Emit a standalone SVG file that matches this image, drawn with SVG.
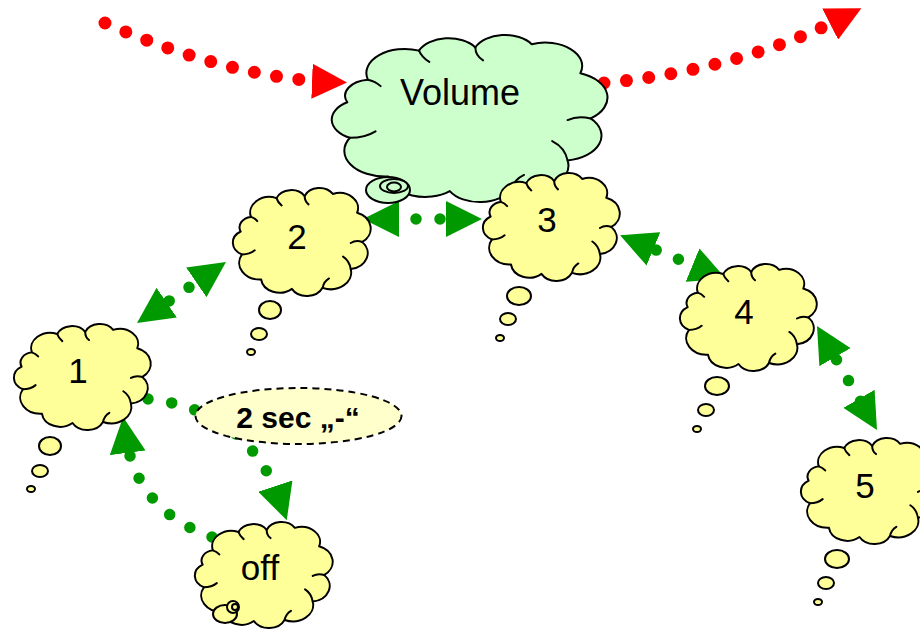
<svg xmlns="http://www.w3.org/2000/svg" xmlns:xlink="http://www.w3.org/1999/xlink" width="920" height="630" viewBox="0 0 920 630">
<style>
.cf{stroke:#000;stroke-width:2;vector-effect:non-scaling-stroke;stroke-linejoin:round}
.cr{fill:none;stroke:#000;stroke-width:2;vector-effect:non-scaling-stroke;stroke-linecap:round}
.y{fill:#ffff99}
.g{fill:#ccffcc}
.b{stroke:#000;stroke-width:2}
.num{font-family:"Liberation Sans",Arial,sans-serif;font-size:35px;fill:#000;text-anchor:middle}
.red{fill:none;stroke:#ff0000;stroke-width:13;stroke-linecap:round;stroke-dasharray:0 22.5}
.grn{fill:none;stroke:#009900;stroke-width:11.5;stroke-linecap:round;stroke-dasharray:0 24}
</style>
<defs>
<g id="cloud">
<path class="cf" d="M10,28 A15,15 0 0 1 30,10 A12.5,12.5 0 0 1 52,8 A12.5,12.5 0 0 1 74,6 A14.5,14.5 0 0 1 93,24 A16,16 0 0 1 97,52 A15.5,15.5 0 0 1 88,78 A16,16 0 0 1 66,96 A13.5,13.5 0 0 1 42,97 A14.5,14.5 0 0 1 18,88 A16,16 0 0 1 3,64 A12.5,12.5 0 0 1 2,42 A10,10 0 0 1 10,28 Z"/>
<path class="cr" d="M97,52 Q92,50 88,53 M88,78 Q87,70 82,66 M52,8 Q52,13 55,16 M66,96 Q67,90 71,87 M3,64 Q9,64 13,60 M30,10 Q31,14 34,17 M10,28 Q13,29 15,32"/>
</g>
<marker id="ar" markerUnits="userSpaceOnUse" viewBox="0 0 35 35" refX="20" refY="17.5" markerWidth="35" markerHeight="35" orient="auto-start-reverse">
<path d="M0,0 L35,17.5 L0,35 Z" fill="#ff0000"/>
</marker>
<marker id="ag" markerUnits="userSpaceOnUse" viewBox="0 0 36 36" refX="21" refY="18" markerWidth="36" markerHeight="36" orient="auto-start-reverse">
<path d="M0,0 L36,18 L0,36 Z" fill="#009900"/>
</marker>
</defs>

<g id="connectors">
<path class="red" d="M105,23 Q230,78 332,82" marker-end="url(#ar)"/>
<path class="red" d="M604,83 Q740,70 848,15" marker-end="url(#ar)"/>
<path class="grn" d="M149.4,314.5 L213.6,270.5" marker-start="url(#ag)" marker-end="url(#ag)"/>
<path class="grn" d="M378,219 L467,219" style="stroke-dashoffset:10" marker-start="url(#ag)" marker-end="url(#ag)"/>
<path class="grn" d="M634,241 L712,273" marker-start="url(#ag)" marker-end="url(#ag)"/>
<path class="grn" d="M824.5,339 L869.5,417" marker-start="url(#ag)" marker-end="url(#ag)"/>
<path class="grn" d="M148,399 Q250,410 282,506" marker-end="url(#ag)"/>
<path class="grn" d="M212,537 Q135,510 125,432" marker-end="url(#ag)"/>
</g>

<g id="node-volume">
<use xlink:href="#cloud" class="g" transform="translate(342.2,34.5) scale(2.561,1.614)"/>
<ellipse class="g b" cx="388" cy="190" rx="22" ry="13"/>
<ellipse class="g b" cx="394" cy="186" rx="14" ry="7"/>
<ellipse class="g b" cx="394" cy="187" rx="7" ry="4.5"/>
<text class="num" x="460" y="105" style="font-size:36px">Volume</text>
</g>

<g id="node-2">
<use xlink:href="#cloud" class="y" transform="translate(238.1,187.7) scale(1.28,1.043)"/>
<ellipse class="y b" cx="270" cy="310" rx="11" ry="9"/>
<ellipse class="y b" cx="259" cy="334" rx="8" ry="6"/>
<ellipse class="y b" cx="251" cy="352" rx="4" ry="3"/>
<text class="num" x="297" y="249">2</text>
</g>

<g id="node-3">
<use xlink:href="#cloud" class="y" transform="translate(488.1,172.7) scale(1.271,1.043)"/>
<ellipse class="y b" cx="519" cy="296" rx="12" ry="9"/>
<ellipse class="y b" cx="508" cy="319" rx="8" ry="6"/>
<ellipse class="y b" cx="500" cy="338" rx="4" ry="3"/>
<text class="num" x="547" y="232">3</text>
</g>

<g id="node-4">
<use xlink:href="#cloud" class="y" transform="translate(685.1,263.7) scale(1.271,1.034)"/>
<ellipse class="y b" cx="717" cy="386" rx="12" ry="9"/>
<ellipse class="y b" cx="706" cy="410" rx="8" ry="6"/>
<ellipse class="y b" cx="697" cy="429" rx="4" ry="3"/>
<text class="num" x="744" y="324">4</text>
</g>

<g id="node-5">
<use xlink:href="#cloud" class="y" transform="translate(806.1,437.7) scale(1.271,1.024)"/>
<ellipse class="y b" cx="837" cy="559" rx="12" ry="9"/>
<ellipse class="y b" cx="826" cy="583" rx="8" ry="6"/>
<ellipse class="y b" cx="818" cy="602" rx="4" ry="3"/>
<text class="num" x="865" y="498">5</text>
</g>

<g id="node-1">
<use xlink:href="#cloud" class="y" transform="translate(19.1,323.7) scale(1.271,1.024)"/>
<ellipse class="y b" cx="50" cy="446" rx="11" ry="9"/>
<ellipse class="y b" cx="40" cy="471" rx="8" ry="6"/>
<ellipse class="y b" cx="31" cy="489" rx="4" ry="3"/>
<text class="num" x="78" y="383">1</text>
</g>

<g id="node-off">
<use xlink:href="#cloud" class="y" transform="translate(200.1,521.7) scale(1.28,1.024)"/>
<ellipse class="y b" cx="225" cy="614" rx="12" ry="9"/>
<ellipse class="y b" cx="233" cy="607" rx="6" ry="6"/>
<ellipse class="y b" cx="235" cy="607" rx="3" ry="3"/>
<text class="num" x="260" y="580">off</text>
</g>

<g id="node-2sec">
<ellipse cx="298.5" cy="416" rx="103" ry="28" fill="#ffffcc" stroke="#000" stroke-width="2" stroke-dasharray="7 5"/>
<text x="298" y="428" style="font-family:'Liberation Sans',Arial,sans-serif;font-size:30px;font-weight:bold;text-anchor:middle">2 sec „-“</text>
</g>
</svg>
